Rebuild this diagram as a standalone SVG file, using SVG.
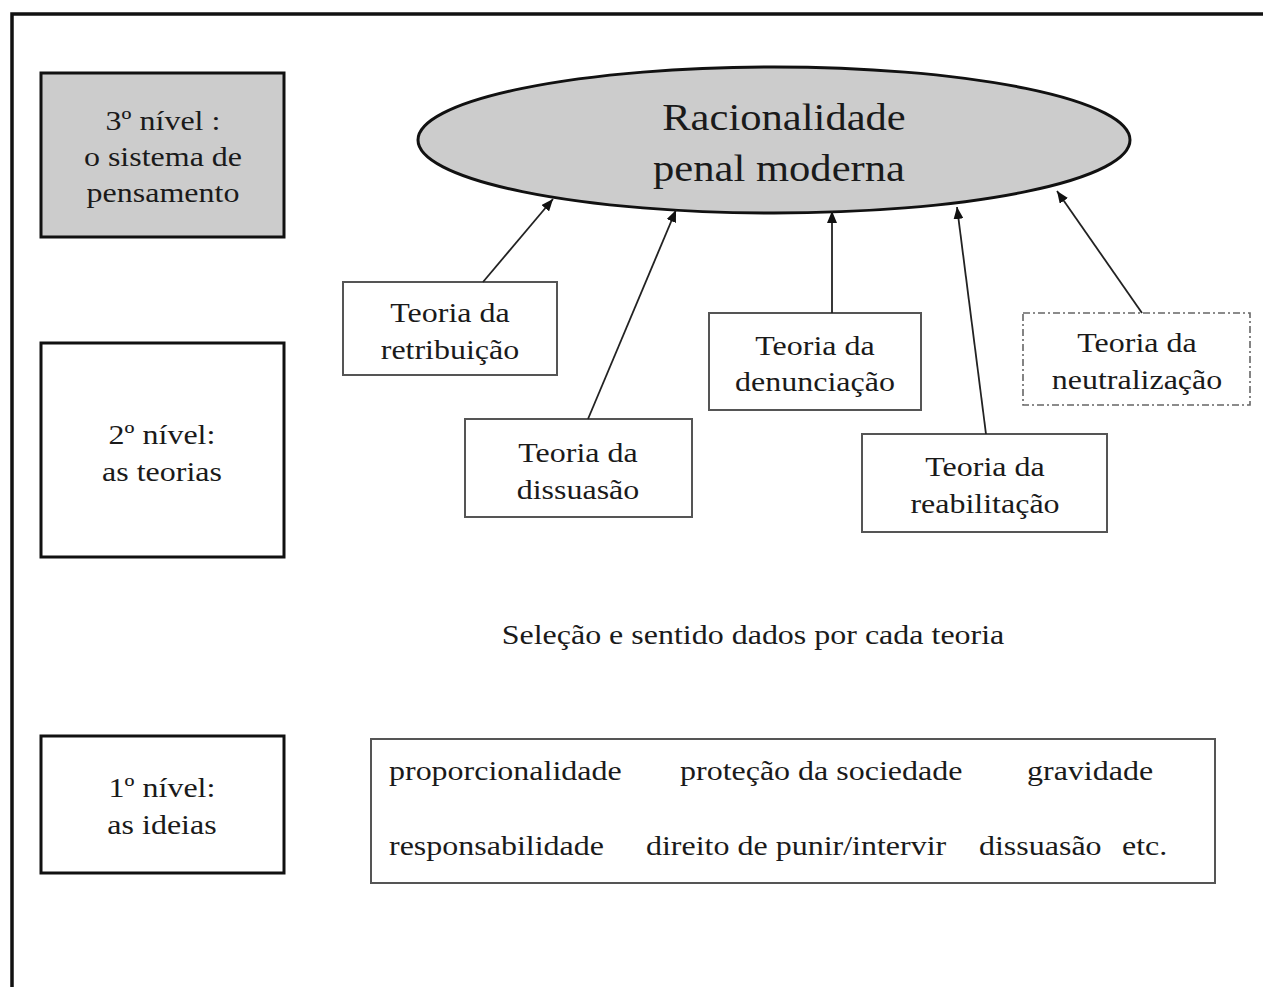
<svg xmlns="http://www.w3.org/2000/svg" width="1263" height="987" viewBox="0 0 1263 987">
<defs>
<style>
text{font-family:"Liberation Serif","Times New Roman",serif;font-size:32px;fill:#1a1a1a;text-anchor:middle;transform:scaleY(0.88);transform-box:fill-box;transform-origin:center}
text.l{text-anchor:start}
text.big{font-size:42.6px}
.lvl{fill:#fff;stroke:#111;stroke-width:3}
.lvl.g{fill:#cccccc}
.th{fill:#fff;stroke:#555;stroke-width:2}
.th.d{stroke:#666;stroke-width:1.6;stroke-dasharray:7 3 2 3}
.cn{stroke:#222;stroke-width:1.8;fill:none;marker-end:url(#ah)}
</style>
<marker id="ah" viewBox="0 0 12 10" refX="12" refY="5" markerWidth="12" markerHeight="10" markerUnits="userSpaceOnUse" orient="auto">
<path d="M0,0 L12,5 L0,10 z" fill="#111"/>
</marker>
</defs>
<rect width="1263" height="987" fill="#fff"/>
<path id="frame" d="M12,1000 V14 H1300" fill="none" stroke="#111" stroke-width="3.5"/>

<g id="nivel3">
<rect class="lvl g" x="41" y="73" width="243" height="164"/>
<text x="163" y="131">3º nível :</text>
<text x="163" y="167">o sistema de</text>
<text x="163" y="203">pensamento</text>
</g>
<g id="nivel2">
<rect class="lvl" x="41" y="343" width="243" height="214"/>
<text x="162" y="445">2º nível:</text>
<text x="162" y="482">as teorias</text>
</g>
<g id="nivel1">
<rect class="lvl" x="41" y="736" width="243" height="137"/>
<text x="162" y="798">1º nível:</text>
<text x="162" y="835">as ideias</text>
</g>

<g id="racionalidade">
<ellipse cx="774" cy="140" rx="356" ry="73" fill="#cccccc" stroke="#111" stroke-width="3"/>
<text class="big" x="784" y="132">Racionalidade</text>
<text class="big" x="779" y="183">penal moderna</text>
</g>

<g id="retribuicao">
<rect class="th" x="343" y="282" width="214" height="93"/>
<text x="450" y="323">Teoria da</text>
<text x="450" y="360">retribuição</text>
</g>
<g id="dissuasao">
<rect class="th" x="465" y="419" width="227" height="98"/>
<text x="578" y="463">Teoria da</text>
<text x="578" y="500">dissuasão</text>
</g>
<g id="denunciacao">
<rect class="th" x="709" y="313" width="212" height="97"/>
<text x="815" y="356">Teoria da</text>
<text x="815" y="392">denunciação</text>
</g>
<g id="reabilitacao">
<rect class="th" x="862" y="434" width="245" height="98"/>
<text x="985" y="477">Teoria da</text>
<text x="985" y="514">reabilitação</text>
</g>
<g id="neutralizacao">
<rect class="th d" x="1023" y="313" width="227" height="92"/>
<text x="1137" y="353">Teoria da</text>
<text x="1137" y="390">neutralização</text>
</g>

<g id="connectors">
<path class="cn" d="M483,282 L553,199"/>
<path class="cn" d="M588,419 L676,210"/>
<path class="cn" d="M832,313 L832,211"/>
<path class="cn" d="M986,434 L957,207"/>
<path class="cn" d="M1142,313 L1057,191"/>
</g>

<g id="selecao">
<text x="753" y="645">Seleção e sentido dados por cada teoria</text>
</g>

<g id="ideias">
<rect class="th" x="371" y="739" width="844" height="144"/>
<text class="l" x="389" y="781">proporcionalidade</text>
<text class="l" x="680" y="781">proteção da sociedade</text>
<text class="l" x="1027" y="781">gravidade</text>
<text class="l" x="389" y="856">responsabilidade</text>
<text class="l" x="646" y="856">direito de punir/intervir</text>
<text class="l" x="979" y="856">dissuasão</text>
<text class="l" x="1122" y="856">etc.</text>
</g>
</svg>
